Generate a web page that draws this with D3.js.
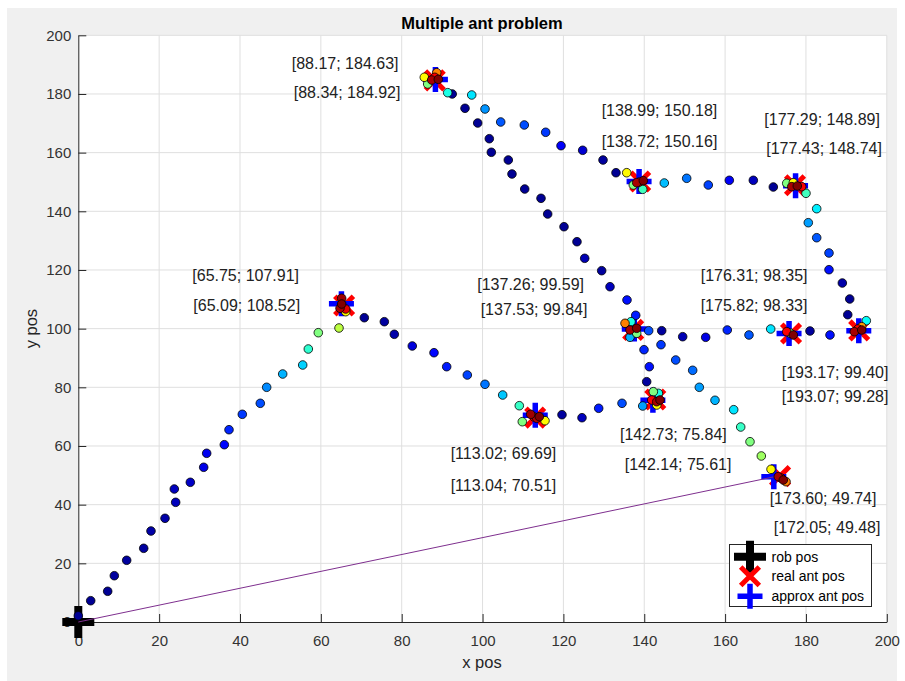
<!DOCTYPE html>
<html>
<head>
<meta charset="utf-8">
<script src="https://cdn.jsdelivr.net/npm/d3@7"></script>
<style>
  html, body { margin: 0; padding: 0; background: #ffffff; }
  svg { display: block; font-family: "Liberation Sans", Arial, Helvetica, sans-serif; }
</style>
</head>
<body>
<svg id="chart" width="905" height="681"></svg>
<script>
// ---- data ----------------------------------------------------------------
const xTickValues = [0, 20, 40, 60, 80, 100, 120, 140, 160, 180, 200];
const yTickValues = [0, 20, 40, 60, 80, 100, 120, 140, 160, 180, 200];

const robPos = [0, 0];

// real ant positions
const realX = [88.17, 138.99, 177.29, 65.75, 137.26, 176.31, 193.17, 113.02, 142.73, 173.60];
const realY = [184.63, 150.18, 148.89, 107.91, 99.59, 98.35, 99.40, 69.69, 75.84, 49.74];
// estimated ant positions
const approxX = [88.34, 138.72, 177.43, 65.09, 137.53, 175.82, 193.07, 113.04, 142.14, 172.05];
const approxY = [184.92, 150.16, 148.74, 108.52, 99.84, 98.33, 99.28, 70.51, 75.61, 49.48];

// index of the ant the robot is currently heading to
const targetAnt = 9;

// pheromone trail samples: position and normalised intensity
const trailX = [
  0.0, 3.07, 7.27, 8.91, 11.97, 16.18, 17.98, 21.45, 24.09, 23.75, 27.71, 31.02, 31.76, 36.12, 37.28, 40.57, 45.02, 46.60, 50.56, 55.51, 56.90, 59.37, 64.49,
  65.15, 65.15, 64.74, 66.15, 66.15,
  70.75, 75.70, 78.17, 82.62, 87.99, 91.13, 96.23, 100.60, 104.98, 109.09, 109.83,
  111.91, 112.73, 113.40, 114.04, 115.45,
  119.65, 124.60, 128.73, 134.50, 139.62,
  142.25, 143.49, 143.09, 141.85, 143.09, 143.90,
  140.60, 141.25, 139.94,
  135.24, 136.72, 136.47, 138.13, 136.47, 138.13,
  92.50, 95.66, 98.80, 101.67, 102.17, 106.37, 107.28, 110.43, 114.46, 116.11, 120.15, 123.36, 125.27, 129.47, 131.53, 135.73, 137.89,
  85.59, 86.43, 88.66, 88.17, 87.42, 89.06,
  91.38, 97.32, 100.61, 104.49, 110.33, 115.62, 119.41, 124.77, 129.80, 133.01, 135.66,
  137.29, 139.62, 138.78, 138.13, 139.77,
  144.96, 150.50, 155.84, 161.04, 166.98, 171.93,
  175.24, 176.87, 178.95, 176.48, 177.86, 180.01,
  182.66, 180.58, 182.66, 185.70, 185.70, 189.00, 190.83, 190.34, 194.93,
  193.79, 192.87, 191.96, 193.79,
  185.95, 181.00,
  176.06, 175.24, 176.87,
  171.28, 165.91, 160.54, 155.20, 149.51, 144.32, 141.10,
  144.14, 147.78, 151.98, 153.62, 157.50, 162.13, 163.86, 166.16, 168.96, 171.36,
  175.07, 173.83, 173.16, 174.40
];
const trailY = [
  2.10, 7.26, 10.47, 15.78, 21.03, 25.12, 31.02, 35.35, 40.80, 45.34, 47.62, 52.74, 57.51, 60.44, 65.55, 70.80, 74.55, 80.01, 84.54, 87.61, 93.06, 98.62, 100.22,
  110.35, 108.40, 106.94, 106.70, 105.78,
  103.73, 102.37, 98.07, 94.09, 91.80, 87.03, 84.20, 81.03, 77.38, 73.73, 68.28,
  70.80, 69.88, 69.44, 69.98, 68.62,
  70.67, 69.64, 72.85, 74.55, 73.63,
  78.51, 77.96, 73.97, 75.68, 75.10, 75.68,
  81.92, 87.03, 92.83,
  101.82, 102.37, 97.05, 98.41, 99.54, 100.12,
  180.00, 175.12, 170.10, 164.75, 160.12, 157.49, 152.72, 147.60, 144.43, 139.08, 134.75, 129.64, 123.98, 119.76, 114.30, 109.77, 104.55,
  185.68, 183.40, 187.25, 185.68, 184.76, 185.00,
  180.44, 179.65, 174.88, 170.45, 169.43, 166.94, 162.37, 160.80, 157.49, 153.16, 153.16,
  148.97, 147.50, 149.99, 149.76, 150.44,
  149.65, 151.25, 148.97, 150.57, 150.57, 148.29,
  149.55, 149.76, 148.40, 148.40, 148.63, 146.14,
  140.89, 136.12, 131.00, 125.79, 120.10, 115.56, 110.11, 104.76, 102.71,
  100.66, 99.88, 98.96, 99.54,
  97.84, 99.20,
  98.52, 98.96, 97.84,
  99.88, 97.84, 99.54, 97.05, 97.26, 99.30, 99.30,
  94.53, 89.31, 85.80, 80.01, 75.58, 72.37, 66.47, 61.46, 56.59, 52.05,
  47.83, 49.09, 49.53, 48.41
];
const trailLevel = [
  0.02, 0.02, 0.02, 0.03, 0.03, 0.03, 0.04, 0.04, 0.06, 0.06, 0.07, 0.10, 0.11, 0.13, 0.16, 0.18, 0.20, 0.26, 0.30, 0.33, 0.42, 0.50, 0.56,
  0.97, 1.00, 0.96, 0.90, 0.63,
  0.02, 0.03, 0.04, 0.09, 0.13, 0.15, 0.19, 0.24, 0.32, 0.43, 0.50,
  0.97, 0.88, 0.95, 1.00, 0.63,
  0.03, 0.06, 0.15, 0.20, 0.28,
  0.50, 0.40, 0.63, 0.88, 0.96, 1.00,
  0.03, 0.14, 0.16,
  0.75, 0.40, 0.30, 0.50, 0.96, 1.00,
  0.02, 0.02, 0.02, 0.02, 0.02, 0.02, 0.02, 0.02, 0.02, 0.02, 0.02, 0.02, 0.05, 0.03, 0.06, 0.14, 0.15,
  0.63, 0.50, 0.75, 0.88, 0.96, 1.00,
  0.40, 0.35, 0.27, 0.21, 0.20, 0.18, 0.12, 0.08, 0.03, 0.02, 0.63,
  0.50, 0.44, 0.88, 0.96, 1.00,
  0.31, 0.24, 0.19, 0.12, 0.06, 0.02,
  0.50, 0.63, 0.88, 0.96, 1.00, 0.44,
  0.36, 0.28, 0.21, 0.19, 0.14, 0.04, 0.02, 0.02, 0.38,
  0.72, 0.88, 0.96, 1.00,
  0.14, 0.03,
  0.50, 0.88, 1.00,
  0.35, 0.21, 0.16, 0.10, 0.05, 0.03, 0.20,
  0.18, 0.20, 0.23, 0.28, 0.30, 0.35, 0.43, 0.50, 0.53, 0.63,
  0.75, 0.88, 0.96, 1.00
];

const legendLabels = ["rob pos", "real ant pos", "approx ant pos"];

// ---- layout ---------------------------------------------------------------
const W = 905, H = 681;
const plot = { left: 78.3, right: 886.8, top: 35.3, bottom: 622 };

// where each coordinate readout sits relative to its marker (px: left edge, mid-line)
const realLabelShift = [[-142, -17.1], [-37.5, -71.5], [-29.7, -66.2], [-150.8, -30.4], [-154.9, -45.9],
                        [-89.3, -57.8], [-76.5, 41.9], [-83.5, 35.7], [-34.3, 34.8], [-9.4, 22.2]];
const approxLabelShift = [[-140.7, 13.2], [-36.4, -40.5], [-28.3, -37.4], [-147.1, 1.3], [-152.6, -19.8],
                          [-87.4, -28.6], [-76.1, 65.2], [-83.6, 69.8], [-27.2, 64.1], [0.9, 50.9]];

const svg = d3.select("#chart");

// figure background
svg.append("rect").attr("x", 0).attr("y", 0).attr("width", W).attr("height", H).attr("fill", "#ffffff");
svg.append("rect").attr("x", 7).attr("y", 8).attr("width", 890).attr("height", H - 8).attr("fill", "#f0f0f0");

// axes area
svg.append("rect")
  .attr("x", plot.left).attr("y", plot.top)
  .attr("width", plot.right - plot.left).attr("height", plot.bottom - plot.top)
  .attr("fill", "#ffffff");

const x = d3.scaleLinear().domain([0, 200]).range([plot.left, plot.right]);
const y = d3.scaleLinear().domain([0, 200]).range([plot.bottom, plot.top]);

// jet colour map
function jet(t) {
  const c = v => Math.max(0, Math.min(1, v));
  const r = c(1.5 - Math.abs(4 * t - 3));
  const g = c(1.5 - Math.abs(4 * t - 2));
  const b = c(1.5 - Math.abs(4 * t - 1));
  return d3.rgb(r * 255, g * 255, b * 255).formatHex();
}
const color = d3.scaleSequential(jet).domain([0, 1]);

// grid
const grid = svg.append("g").attr("stroke", "#dfdfdf").attr("stroke-width", 1);
grid.selectAll("line.gx").data(xTickValues.filter(d => d > 0)).join("line")
  .attr("x1", d => x(d)).attr("x2", d => x(d))
  .attr("y1", plot.top).attr("y2", plot.bottom);
grid.selectAll("line.gy").data(yTickValues.filter(d => d > 0)).join("line")
  .attr("x1", plot.left).attr("x2", plot.right)
  .attr("y1", d => y(d)).attr("y2", d => y(d));

// axes
const axisColor = "#262626";
const gx = svg.append("g").attr("transform", `translate(0,${plot.bottom})`)
  .call(d3.axisBottom(x).tickValues(xTickValues).tickSizeInner(-8).tickSizeOuter(0).tickPadding(13));
const gy = svg.append("g").attr("transform", `translate(${plot.left},0)`)
  .call(d3.axisLeft(y).tickValues(yTickValues).tickSizeInner(-8).tickSizeOuter(0).tickPadding(7));
[gx, gy].forEach(g => {
  g.select(".domain").attr("stroke", axisColor).attr("stroke-width", 1);
  g.selectAll(".tick line").attr("stroke", axisColor).attr("stroke-width", 1);
  g.selectAll(".tick text").attr("fill", "#333333")
    .style("font-size", "15px").style("font-family", "\"Liberation Sans\", Arial, sans-serif");
});

// title and axis labels
svg.append("text").attr("x", 482).attr("y", 29).attr("text-anchor", "middle")
  .style("font-size", "16.5px").style("font-weight", "bold").attr("fill", "#000")
  .text("Multiple ant problem");
svg.append("text").attr("x", 482).attr("y", 668).attr("text-anchor", "middle")
  .style("font-size", "16.5px").attr("fill", "#262626").text("x pos");
svg.append("text").attr("transform", `translate(37,${(plot.top + plot.bottom) / 2}) rotate(-90)`)
  .attr("text-anchor", "middle").style("font-size", "16.5px").attr("fill", "#262626").text("y pos");

// marker shapes
function plusPath(a) { return `M${-a},0H${a}M0,${-a}V${a}`; }
function crossPath(a) { return `M${-a},${-a}L${a},${a}M${-a},${a}L${a},${-a}`; }
const robStyle = { d: plusPath(16), stroke: "#000000", width: 8 };
const realStyle = { d: crossPath(9.3), stroke: "#ff0000", width: 5 };
const approxStyle = { d: plusPath(12.5), stroke: "#0000ff", width: 5.5 };

function drawMarker(g, style, px, py) {
  g.append("path").attr("d", style.d).attr("transform", `translate(${px},${py})`)
    .attr("fill", "none").attr("stroke", style.stroke).attr("stroke-width", style.width)
    .attr("stroke-linecap", "butt");
}

const marks = svg.append("g");
drawMarker(marks, robStyle, x(robPos[0]), y(robPos[1]));
realX.forEach((d, i) => drawMarker(marks, realStyle, x(d), y(realY[i])));
approxX.forEach((d, i) => drawMarker(marks, approxStyle, x(d), y(approxY[i])));

// path from the robot to the current target
svg.append("line")
  .attr("x1", x(robPos[0])).attr("y1", y(robPos[1]))
  .attr("x2", x(approxX[targetAnt])).attr("y2", y(approxY[targetAnt]))
  .attr("stroke", "#7e2f8e").attr("stroke-width", 1);

// trail samples, strongest on top
const trail = trailX.map((d, i) => ({ x: d, y: trailY[i], v: trailLevel[i] }))
  .sort((a, b) => a.v - b.v);
svg.append("g").selectAll("circle").data(trail).join("circle")
  .attr("cx", d => x(d.x)).attr("cy", d => y(d.y)).attr("r", 4.3)
  .attr("fill", d => color(d.v)).attr("stroke", "#000000").attr("stroke-width", 0.8);

// coordinate readouts
const fmt = (a, b) => `[${a.toFixed(2)}; ${b.toFixed(2)}]`;
const labels = svg.append("g").style("font-size", "16px").attr("fill", "#222222");
realX.forEach((d, i) => {
  labels.append("text")
    .attr("x", x(d) + realLabelShift[i][0] - 1)
    .attr("y", y(realY[i]) + realLabelShift[i][1] + 5.7)
    .text(fmt(d, realY[i]));
});
approxX.forEach((d, i) => {
  labels.append("text")
    .attr("x", x(d) + approxLabelShift[i][0] - 1)
    .attr("y", y(approxY[i]) + approxLabelShift[i][1] + 5.7)
    .text(fmt(d, approxY[i]));
});

// legend
const lg = svg.append("g");
lg.append("rect").attr("x", 729.5).attr("y", 544.5).attr("width", 142).attr("height", 62)
  .attr("fill", "#ffffff").attr("stroke", "#262626").attr("stroke-width", 1);
const legendStyles = [robStyle, realStyle, approxStyle];
const rowY = [556.7, 576.3, 596.3];
legendStyles.forEach((s, i) => drawMarker(lg, s, 750, rowY[i]));
legendLabels.forEach((t, i) => {
  lg.append("text").attr("x", 771.5).attr("y", rowY[i] + 5)
    .style("font-size", "14px").attr("fill", "#000").text(t);
});
</script>
</body>
</html>
